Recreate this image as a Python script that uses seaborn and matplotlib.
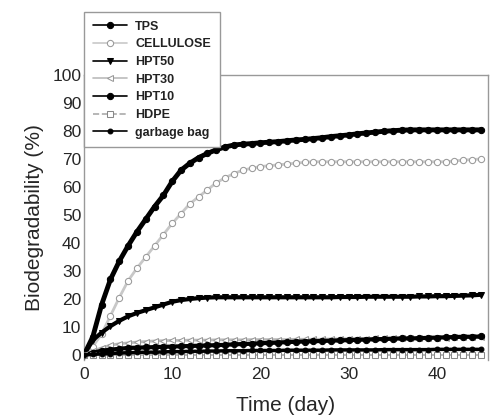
import matplotlib
matplotlib.use("Agg")
import matplotlib.pyplot as plt
import seaborn as sns
import pandas as pd

days = list(range(0, 46))

tps = [0, 6.5, 18, 27, 33.5, 39, 44, 48.5, 53, 57, 62, 66, 68.5, 70.5, 72, 73.3,
       74.3, 75, 75.3, 75.5, 75.8, 76, 76.2, 76.5, 76.8, 77, 77.3, 77.6, 78, 78.3,
       78.6, 79, 79.3, 79.6, 79.9, 80.1, 80.3, 80.4, 80.4, 80.4, 80.4, 80.4, 80.4,
       80.4, 80.4, 80.4]
cellulose = [0, 3, 7.5, 14, 20.5, 26.5, 31, 35, 39, 43, 47, 50.5, 54, 56.5, 59, 61.5,
             63.3, 64.8, 66, 66.7, 67.3, 67.6, 67.9, 68.2, 68.5, 68.8, 69, 69, 69, 69,
             69, 69, 69, 69, 69, 69, 69, 69, 69, 69, 69, 69, 69.3, 69.6, 69.8, 70]
hpt50 = [0, 5.3, 8, 10.3, 12.2, 13.8, 15, 16, 17, 18, 19, 19.6, 20, 20.3, 20.5, 20.6,
         20.6, 20.6, 20.6, 20.6, 20.6, 20.6, 20.6, 20.6, 20.6, 20.6, 20.6, 20.6, 20.6,
         20.7, 20.7, 20.7, 20.8, 20.8, 20.8, 20.8, 20.8, 20.8, 20.9, 20.9, 21, 21,
         21.1, 21.2, 21.3, 21.5]
hpt30 = [0, 1.5, 2.5, 3.5, 4, 4.3, 4.6, 4.8, 5, 5.1, 5.2, 5.2, 5.3, 5.3, 5.3, 5.4,
         5.4, 5.4, 5.4, 5.5, 5.5, 5.5, 5.5, 5.5, 5.6, 5.6, 5.6, 5.6, 5.7, 5.7, 5.8,
         5.8, 5.8, 5.9, 5.9, 6, 6, 6, 6.1, 6.1, 6.2, 6.2, 6.3, 6.3, 6.3, 6.4]
hpt10 = [0, 0.8, 1.5, 1.9, 2.2, 2.5, 2.6, 2.7, 2.8, 2.9, 3, 3.1, 3.2, 3.3, 3.4, 3.5,
         3.6, 3.8, 3.9, 4, 4.2, 4.3, 4.4, 4.6, 4.7, 4.8, 4.9, 5, 5.1, 5.2, 5.3, 5.4,
         5.5, 5.6, 5.7, 5.8, 5.9, 5.9, 6, 6.1, 6.2, 6.3, 6.4, 6.5, 6.5, 6.6]
hdpe = [0] * 46
garbage = [0, 0.2, 0.4, 0.5, 0.7, 0.8, 0.9, 1, 1, 1.1, 1.2, 1.2, 1.3, 1.3, 1.4, 1.4,
           1.5, 1.5, 1.5, 1.6, 1.6, 1.6, 1.6, 1.7, 1.7, 1.7, 1.7, 1.7, 1.8, 1.8, 1.8,
           1.8, 1.8, 1.8, 1.9, 1.9, 1.9, 1.9, 1.9, 1.9, 2, 2, 2, 2, 2, 2]

labels = ["TPS", "CELLULOSE", "HPT50", "HPT30", "HPT10", "HDPE", "garbage bag"]
series = [tps, cellulose, hpt50, hpt30, hpt10, hdpe, garbage]

styles = {
    "TPS": dict(color="black", marker="o", ms=4.5, mfc="black", mec="black", lw=3.5, ls="-"),
    "CELLULOSE": dict(color="#c8c8c8", marker="o", ms=4.5, mfc="white", mec="#999999", lw=2.0, ls="-"),
    "HPT50": dict(color="black", marker="v", ms=4.5, mfc="black", mec="black", lw=3.0, ls="-"),
    "HPT30": dict(color="#bbbbbb", marker="<", ms=4.5, mfc="white", mec="#999999", lw=2.0, ls="-"),
    "HPT10": dict(color="black", marker="o", ms=4.5, mfc="black", mec="black", lw=3.0, ls="-"),
    "HDPE": dict(color="#aaaaaa", marker="s", ms=4.5, mfc="white", mec="#888888", lw=1.2, ls="--"),
    "garbage bag": dict(color="black", marker="o", ms=3.5, mfc="black", mec="black", lw=2.5, ls="-"),
}

df = pd.DataFrame({"day": days * len(labels),
                   "value": sum(series, []),
                   "name": sum([[l] * len(days) for l in labels], [])})

sns.set_style("white")
plt.rcParams["font.family"] = ["Liberation Sans", "DejaVu Sans"]

fig = plt.figure(figsize=(4.92, 4.15), dpi=100)
ax = fig.add_axes([84 / 492, 1 - 360 / 415, (488 - 84) / 492, (360 - 75) / 415])

for lab in labels:
    st = styles[lab]
    sns.lineplot(data=df[df["name"] == lab], x="day", y="value", ax=ax,
                 color=st["color"], marker=st["marker"], markersize=st["ms"],
                 markerfacecolor=st["mfc"], markeredgecolor=st["mec"],
                 linewidth=st["lw"], linestyle=st["ls"], label=lab, zorder=3)

ax.set_xlim(0, 45.8)
ax.set_ylim(-1.8, 100)
ax.set_xticks([0, 10, 20, 30, 40])
ax.set_yticks(range(0, 101, 10))
ax.tick_params(axis="both", labelsize=12.5, length=3, color="#888888", direction="in", pad=2)
ax.tick_params(axis="x", length=0, pad=5)
for s in ["left", "top", "right"]:
    ax.spines[s].set_color("#999999")
    ax.spines[s].set_linewidth(1.0)
ax.spines["bottom"].set_visible(False)

ax.set_xlabel("Time (day)", fontsize=15, labelpad=10)
ax.set_ylabel("Biodegradability (%)", fontsize=15, labelpad=6)

leg = ax.legend(loc="upper left", bbox_to_anchor=(0, 1.221), borderaxespad=0,
                frameon=True, fancybox=False, framealpha=1, edgecolor="#999999",
                prop={"size": 9, "weight": "bold"}, handlelength=2.7,
                labelspacing=0.45, borderpad=0.7, handletextpad=0.7)
leg.get_frame().set_linewidth(1.0)
leg.set_zorder(10)
for line in leg.get_lines():
    line.set_linewidth(1.2)
for t in leg.get_texts():
    t.set_color("#222222")

fig.savefig("out.png", dpi=100)
